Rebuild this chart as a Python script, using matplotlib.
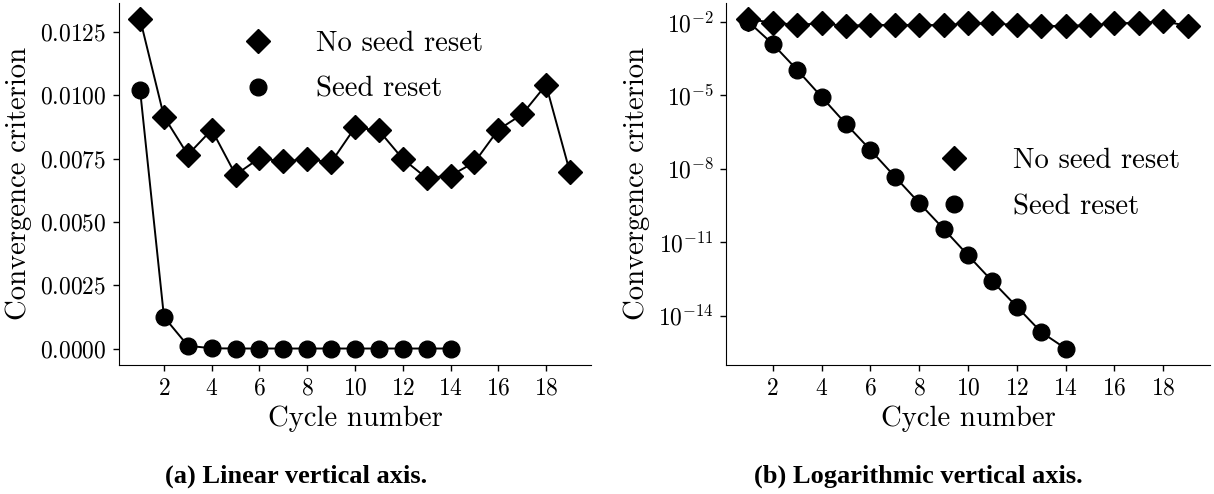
import numpy as np
import matplotlib
matplotlib.use("Agg")
import matplotlib.pyplot as plt
from matplotlib.lines import Line2D
from matplotlib.ticker import FuncFormatter

plt.rcParams['font.family'] = 'serif'
plt.rcParams['font.serif'] = ['cmr10']
plt.rcParams['mathtext.fontset'] = 'cm'
plt.rcParams['axes.unicode_minus'] = False

cycles_no_reset = list(range(1, 20))
no_reset = [0.01301, 0.00916, 0.00765, 0.00864, 0.00686, 0.00752, 0.00739, 0.00748,
            0.00735, 0.00873, 0.00861, 0.00749, 0.00673, 0.00683, 0.00735, 0.00864,
            0.00925, 0.01041, 0.00697]

cycles_reset = list(range(1, 15))
seed_reset = [1.02e-2, 1.25e-3, 1.1e-4, 8.7e-6, 6.8e-7, 5.9e-8, 4.8e-9, 4.0e-10,
              3.5e-11, 2.9e-12, 2.5e-13, 2.3e-14, 2.1e-15, 4.5e-16]

lin_ticks = [0, 0.0025, 0.005, 0.0075, 0.01, 0.0125]
log_ticks = [1e-2, 1e-5, 1e-8, 1e-11, 1e-14]
labels = ['No seed reset', 'Seed reset']
captions = ['(a) Linear vertical axis.', '(b) Logarithmic vertical axis.']

W, H = 1214, 494
fig = plt.figure(figsize=(W / 100, H / 100), dpi=100)
ax1 = fig.add_axes([118.6 / W, 1 - 365 / H, 472.8 / W, 362.4 / H])
ax2 = fig.add_axes([726.3 / W, 1 - 365 / H, 483.4 / W, 362.4 / H])

handles = [Line2D([], [], color='black', marker='D', ms=12.5, ls='none'),
           Line2D([], [], color='black', marker='o', ms=12, ls='none')]

for ax in (ax1, ax2):
    ax.plot(cycles_no_reset, no_reset, color='black', lw=1.4, marker='D', ms=12.5)
    ax.plot(cycles_reset, seed_reset, color='black', lw=1.4, marker='o', ms=12)
    ax.spines['top'].set_visible(False)
    ax.spines['right'].set_visible(False)
    ax.set_xticks(range(2, 20, 2))
    ax.xaxis.set_major_formatter(FuncFormatter(lambda v, p: '$%d$' % v))
    ax.tick_params(labelsize=17, width=1, length=4, pad=5)
    ax.set_xlabel('Cycle number', fontsize=20.7)
    ax.xaxis.set_label_coords(0.5, -0.112)
    ax.set_ylabel('Convergence criterion', fontsize=20.7)

ax1.set_yticks(lin_ticks)
ax1.yaxis.set_major_formatter(FuncFormatter(lambda v, p: '$%.4f$' % v))
ax1.yaxis.set_label_coords(-0.183, 0.5)
ax1.legend(handles, labels, loc='center left', bbox_to_anchor=(0.2635, 0.823),
           frameon=False, fontsize=20.7, handlelength=1, handletextpad=1.53,
           labelspacing=0.68, borderpad=0, borderaxespad=0)

ax2.set_yscale('log')
ax2.set_yticks(log_ticks)
ax2.minorticks_off()
ax2.yaxis.set_major_formatter(FuncFormatter(lambda v, p: '$10^{%d}$' % round(np.log10(v))))
ax2.yaxis.set_label_coords(-0.158, 0.5)
ax2.legend(handles, labels, loc='center left', bbox_to_anchor=(0.4419, 0.4989),
           frameon=False, fontsize=20.7, handlelength=1, handletextpad=1.53,
           labelspacing=0.68, borderpad=0, borderaxespad=0)

fig.text(296.5 / W, 1 - 483 / H, captions[0], ha='center', va='baseline',
         family='Liberation Serif', weight='bold', fontsize=19)
fig.text(918 / W, 1 - 483 / H, captions[1], ha='center', va='baseline',
         family='Liberation Serif', weight='bold', fontsize=19)

fig.savefig('out.png', dpi=100)
